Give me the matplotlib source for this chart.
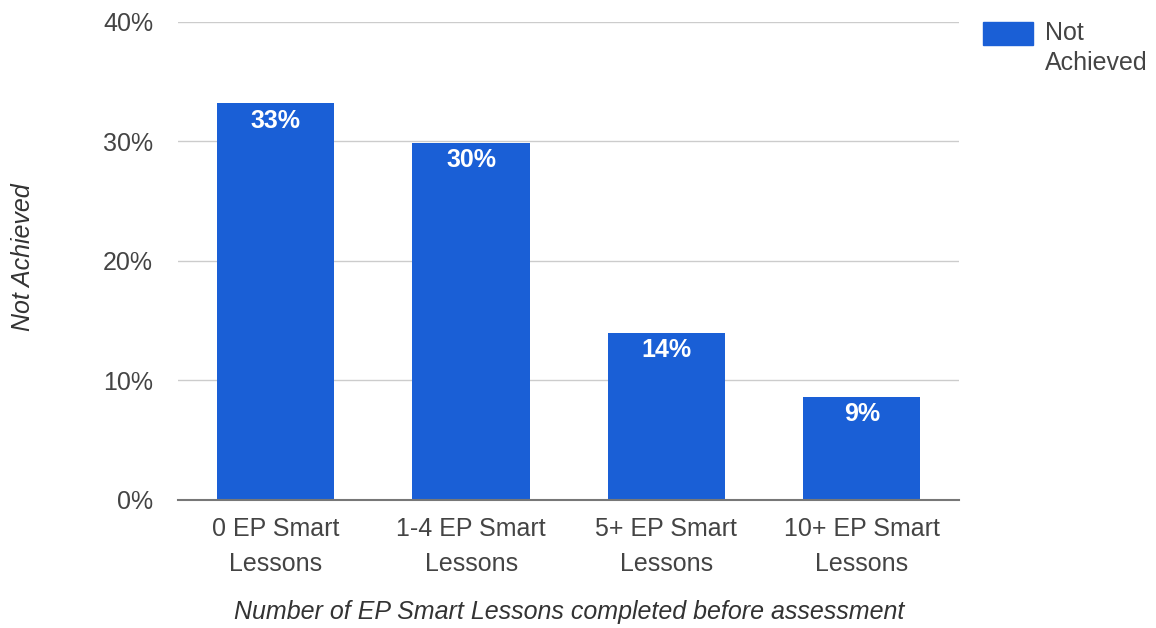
import matplotlib.pyplot as plt
from matplotlib.patches import Rectangle

plt.rcParams['font.family'] = ['Liberation Sans', 'DejaVu Sans']

# Dane z wykresu
categories = ['0 EP Smart\nLessons', '1-4 EP Smart\nLessons', '5+ EP Smart\nLessons', '10+ EP Smart\nLessons']
not_achieved = [33.2, 29.9, 14.0, 8.6]
bar_labels = ['33%', '30%', '14%', '9%']
y_ticks = [0, 10, 20, 30, 40]
y_tick_labels = ['0%', '10%', '20%', '30%', '40%']

bar_color = '#1a5fd6'
text_color = '#444444'
fs = 18

fig = plt.figure(figsize=(11.56, 6.28), dpi=100)
ax = fig.add_axes([0.154, 0.204, 0.676, 0.761])

x = range(len(categories))
bars = ax.bar(x, not_achieved, width=0.6, color=bar_color, zorder=3)

# Etykiety wartości wewnątrz słupków
for rect, lab in zip(bars, bar_labels):
    ax.annotate(lab, (rect.get_x() + rect.get_width() / 2, rect.get_height()),
                xytext=(0, -12.5), textcoords='offset points',
                ha='center', va='center', color='white', fontsize=fs,
                fontweight='bold', zorder=4)

ax.set_xlim(-0.5, len(categories) - 0.5)
ax.set_ylim(0, 40)
ax.set_yticks(y_ticks)
ax.set_yticklabels(y_tick_labels, fontsize=fs, color=text_color)
ax.set_xticks(list(x))
ax.set_xticklabels(categories, fontsize=fs, color=text_color, linespacing=1.6)
ax.tick_params(axis='y', length=0, pad=18)
ax.tick_params(axis='x', length=0, pad=12)

ax.grid(axis='y', color='#cccccc', linewidth=1, zorder=0)
for side in ['top', 'right', 'left']:
    ax.spines[side].set_visible(False)
ax.spines['bottom'].set_color('#777777')
ax.spines['bottom'].set_linewidth(1.5)
ax.spines['bottom'].set_zorder(5)

ax.set_xlabel('Number of EP Smart Lessons completed before assessment',
              fontsize=fs, style='italic', color='#333333', labelpad=17)
fig.text(23 / 1156, 1 - 257 / 628, 'Not Achieved', rotation=90, fontsize=fs,
         style='italic', color='#333333', ha='center', va='center')

# Legenda
fig.patches.append(Rectangle((983 / 1156, 1 - 45 / 628), 50 / 1156, 23 / 628,
                             transform=fig.transFigure, color=bar_color))
fig.text(1045 / 1156, 1 - 48 / 628, 'Not\nAchieved', fontsize=fs, color=text_color,
         ha='left', va='center', linespacing=1.35)

fig.savefig('out.png', dpi=100, facecolor='white')
